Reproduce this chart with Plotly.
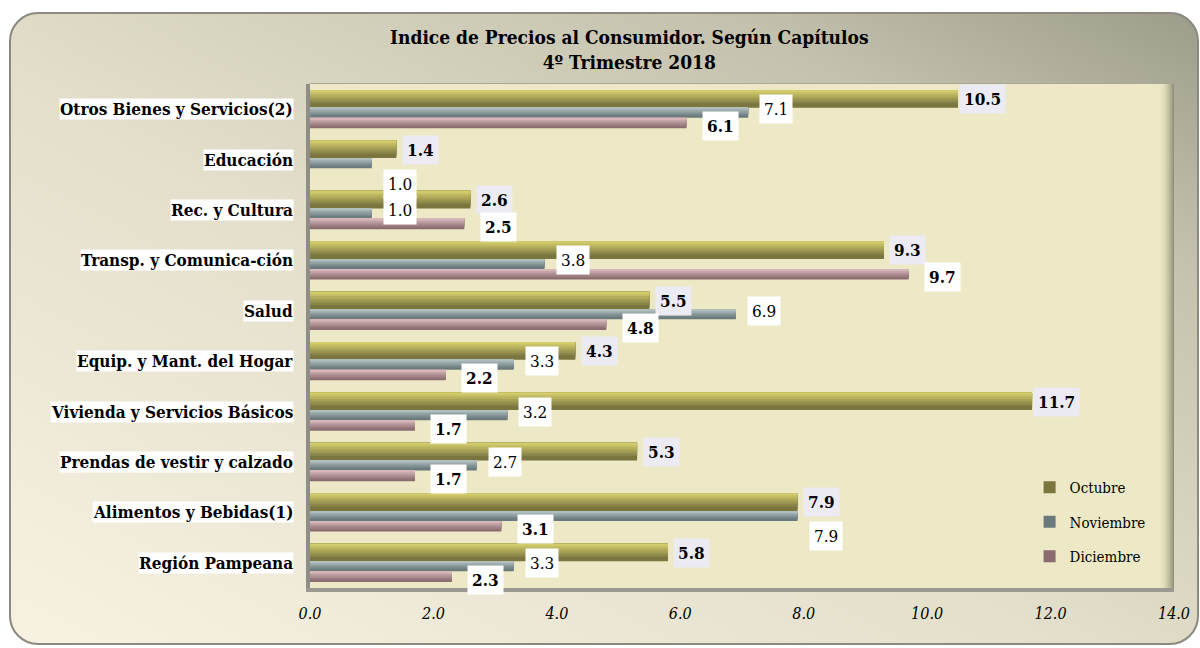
import base64
import plotly.graph_objects as go

# ---------------- data ----------------
categories = [
    "Región Pampeana",
    "Alimentos y Bebidas(1)",
    "Prendas de vestir y calzado",
    "Vivienda y Servicios Básicos",
    "Equip. y Mant. del Hogar",
    "Salud",
    "Transp. y Comunica-ción",
    "Rec. y Cultura",
    "Educación",
    "Otros Bienes y Servicios(2)",
]
octubre = [5.8, 7.9, 5.3, 11.7, 4.3, 5.5, 9.3, 2.6, 1.4, 10.5]
noviembre = [3.3, 7.9, 2.7, 3.2, 3.3, 6.9, 3.8, 1.0, 1.0, 7.1]
diciembre = [2.3, 3.1, 1.7, 1.7, 2.2, 4.8, 9.7, 2.5, None, 6.1]
series_names = ["Octubre", "Noviembre", "Diciembre"]
x_ticks = [0, 2, 4, 6, 8, 10, 12, 14]

title_lines = ["Indice de Precios al Consumidor. Según Capítulos", "4º Trimestre 2018"]

# ---------------- styling ----------------
W, H = 1200, 648
PX0, PX1, PY0, PY1 = 310, 1174, 84, 588  # plot area in pixels
SERIF = "DejaVu Serif Condensed, Liberation Serif, serif"
PX_PER_UNIT = (PX1 - PX0) / 14.0

series_style = {
    "Octubre": dict(offset=0.03, width=0.35, top="#d3cc6c", bottom="#6c6839", legend="#7a763e",
                    label_font="bold", label_bg="#ecebf4", dx=24, dy=10),
    "Noviembre": dict(offset=-0.17, width=0.20, top="#b0bebe", bottom="#617175", legend="#6a7a7c",
                      label_font="normal", label_bg="#ffffff", dx=28, dy=0),
    "Diciembre": dict(offset=-0.38, width=0.21, top="#d6b6b9", bottom="#85676b", legend="#8a6c70",
                      label_font="bold", label_bg="#ffffff", dx=34, dy=-17),
}
values = {"Octubre": octubre, "Noviembre": noviembre, "Diciembre": diciembre}


def mix(c1, c2, t):
    a = [int(c1[i:i + 2], 16) for i in (1, 3, 5)]
    b = [int(c2[i:i + 2], 16) for i in (1, 3, 5)]
    return "#" + "".join(f"{round(x + (y - x) * t):02x}" for x, y in zip(a, b))


fig = go.Figure()
N_LAYERS = 8
for name in series_names:
    st = series_style[name]
    vals = values[name]
    # base (legend) trace
    fig.add_trace(go.Bar(
        x=vals, y=categories, orientation="h", name=name, legendgroup=name,
        showlegend=True, offset=st["offset"], width=st["width"],
        marker=dict(color=st["legend"], line=dict(width=0)),
    ))
    # gradient layers: nested bands anchored at the top of the bar
    for k in range(1, N_LAYERS):
        frac = 1 - k / N_LAYERS
        col = mix(st["bottom"], st["top"], k / (N_LAYERS - 1))
        wid = st["width"] * frac
        off = st["offset"] + st["width"] - wid
        fig.add_trace(go.Bar(
            x=vals, y=categories, orientation="h", name=name, legendgroup=name,
            showlegend=False, offset=off, width=wid,
            marker=dict(color=col, line=dict(width=0)), hoverinfo="skip",
        ))

# data labels
annotations = []
for name in series_names:
    st = series_style[name]
    for idx, (cat, v) in enumerate(zip(categories, values[name])):
        if v is None:
            continue
        dy = st["dy"]
        if name == "Noviembre":
            # push the label below when it would collide with the Octubre label
            o = octubre[idx]
            ox = o * PX_PER_UNIT + series_style["Octubre"]["dx"]
            nx = v * PX_PER_UNIT + st["dx"]
            if abs(ox - nx) < 50:
                dy = -24
        annotations.append(dict(
            x=v, y=cat, xref="x", yref="y", text=f"{v:.1f}",
            showarrow=False, xanchor="center", yanchor="middle",
            xshift=st["dx"], yshift=dy,
            font=dict(family=SERIF, size=17, color="black", weight=st["label_font"]),
            bgcolor=st["label_bg"], borderpad=4,
        ))

# category labels (white boxes)
for cat in categories:
    annotations.append(dict(
        x=PX0 / W, y=cat, xref="paper", yref="y", text=f"<b>{cat}</b>",
        showarrow=False, xanchor="right", yanchor="middle", xshift=-16,
        font=dict(family=SERIF, size=17, color="black"),
        bgcolor="white", borderpad=0,
    ))

# title
annotations.append(dict(
    x=629 / W, y=1 - 24 / H, xref="paper", yref="paper",
    text="<b>" + "<br>".join(title_lines) + "</b>",
    showarrow=False, xanchor="center", yanchor="top",
    font=dict(family=SERIF, size=19, color="black"),
))

# background drawn as SVG
svg = f'''<svg xmlns="http://www.w3.org/2000/svg" width="{W}" height="{H}" viewBox="0 0 {W} {H}">
<defs>
<linearGradient id="bg" x1="0" y1="1" x2="1" y2="0">
<stop offset="0" stop-color="#f7f2e2"/>
<stop offset="0.45" stop-color="#e3dfcb"/>
<stop offset="0.8" stop-color="#c4c2ae"/>
<stop offset="1" stop-color="#9d9c8a"/>
</linearGradient>
<linearGradient id="wall" x1="0" y1="0" x2="1" y2="0">
<stop offset="0" stop-color="#ede9c5" stop-opacity="0"/>
<stop offset="1" stop-color="#8c8c74"/>
</linearGradient>
</defs>
<rect x="10" y="13" width="1188" height="631" rx="28" ry="28" fill="url(#bg)" stroke="#8a8a80" stroke-width="2"/>
<rect x="{PX0}" y="{PY0}" width="{PX1-PX0}" height="{PY1-PY0}" fill="#ede9c6"/>
<rect x="{PX1-16}" y="{PY0}" width="16" height="{PY1-PY0}" fill="url(#wall)"/>
<rect x="{PX0-4}" y="{PY0}" width="4" height="{PY1-PY0+4}" fill="#8e8e86"/>
<rect x="{PX0-4}" y="{PY1}" width="{PX1-PX0+4}" height="4" fill="#9a9a92"/>
<rect x="{PX0}" y="{PY0-1}" width="{PX1-PX0}" height="1" fill="#a8a898"/>
</svg>'''
svg_uri = "data:image/svg+xml;base64," + base64.b64encode(svg.encode("utf-8")).decode("ascii")

fig.update_layout(
    width=W, height=H,
    margin=dict(l=0, r=0, t=0, b=0),
    paper_bgcolor="white",
    plot_bgcolor="rgba(0,0,0,0)",
    barmode="overlay",
    annotations=annotations,
    images=[dict(source=svg_uri, xref="paper", yref="paper", x=0, y=1,
                 sizex=1, sizey=1, xanchor="left", yanchor="top",
                 sizing="stretch", layer="below")],
    legend=dict(x=0.858, y=1 - 471 / H, xanchor="left", yanchor="top",
                bgcolor="rgba(0,0,0,0)", tracegroupgap=12, itemwidth=30,
                font=dict(family=SERIF, size=15, color="black"),
                traceorder="grouped"),
    xaxis=dict(domain=[PX0 / W, PX1 / W], range=[0, 14], tickvals=x_ticks,
               ticktext=[f"{t:.1f}" for t in x_ticks], showgrid=False,
               zeroline=False, showline=False, ticks="", ticklabelstandoff=14,
               tickfont=dict(family=SERIF, size=16, color="black", style="italic"),
               automargin=False, fixedrange=True),
    yaxis=dict(domain=[1 - PY1 / H, 1 - PY0 / H], range=[-0.5, 9.5],
               categoryorder="array", categoryarray=categories,
               showticklabels=False, showgrid=False, zeroline=False,
               showline=False, ticks="", automargin=False, fixedrange=True),
    showlegend=True,
)

fig.write_html("out.html", post_script="document.body.style.margin='0';",
               config={"displayModeBar": False})
